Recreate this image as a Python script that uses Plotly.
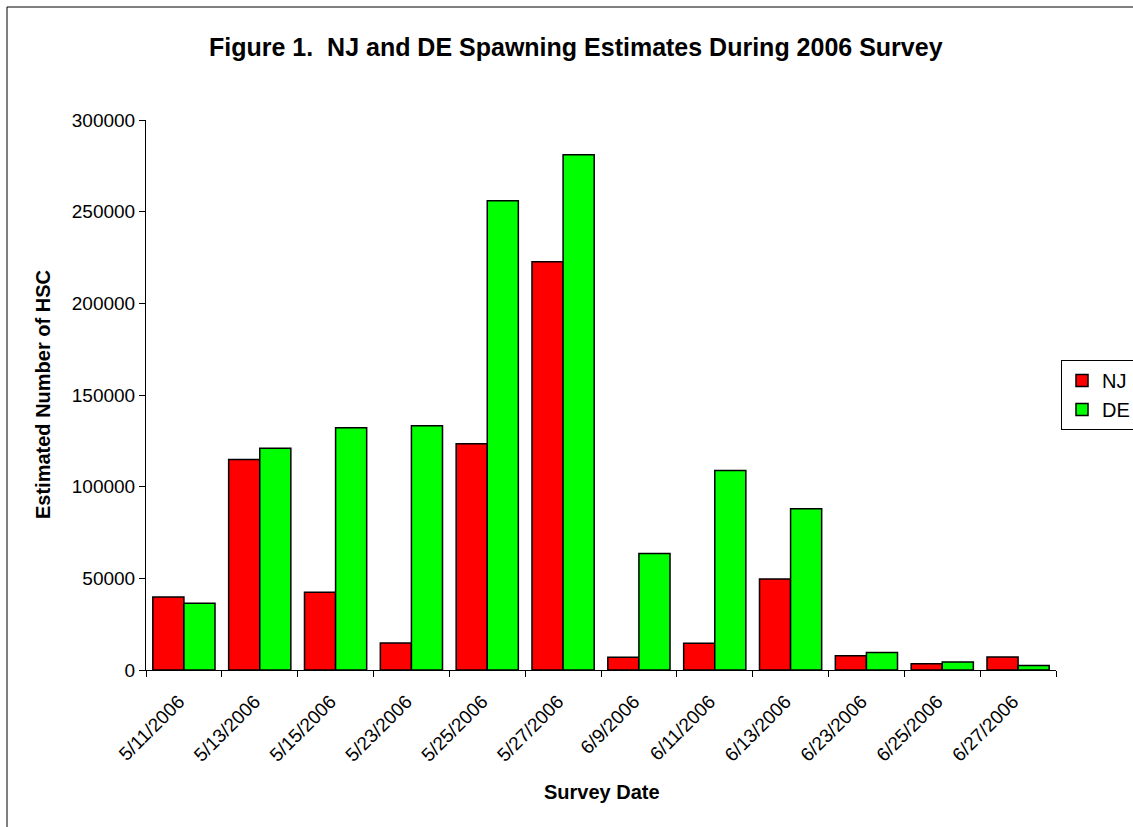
import plotly.graph_objects as go

dates = ["5/11/2006", "5/13/2006", "5/15/2006", "5/23/2006", "5/25/2006", "5/27/2006",
         "6/9/2006", "6/11/2006", "6/13/2006", "6/23/2006", "6/25/2006", "6/27/2006"]
nj = [39800, 114800, 42400, 14700, 123400, 222700, 6900, 14600, 49600, 7800, 3400, 7100]
de = [36400, 120900, 132200, 133200, 255900, 281000, 63500, 108800, 88000, 9600, 4400, 2500]
yticks = [0, 50000, 100000, 150000, 200000, 250000, 300000]

FONT = "Arial, Liberation Sans, sans-serif"

fig = go.Figure()
fig.add_trace(go.Bar(name="NJ", x=dates, y=nj,
                     marker=dict(color="#FF0000", line=dict(color="black", width=1.5))))
fig.add_trace(go.Bar(name="DE", x=dates, y=de,
                     marker=dict(color="#00FF00", line=dict(color="black", width=1.5))))

L, R, T, B = 146, 1056, 120, 670
W, H = 1133, 827
pw, ph = R - L, B - T

def px(x):
    return (x - L) / pw

def py(y):
    return (B - y) / ph

fig.update_layout(
    width=W, height=H,
    margin=dict(l=L, r=W - R, t=T, b=H - B, pad=0, autoexpand=False),
    paper_bgcolor="white", plot_bgcolor="white",
    barmode="group", bargap=0.18, bargroupgap=0,
    font=dict(family=FONT, color="black", size=19),
    showlegend=True,
    legend=dict(xref="container", yref="container",
                x=1061 / W, y=1 - 360 / H, xanchor="left", yanchor="top",
                bordercolor="black", borderwidth=1, bgcolor="white",
                font=dict(size=20, family=FONT), itemwidth=30, tracegroupgap=0),
    xaxis=dict(type="category", showline=True, linecolor="black", linewidth=1,
               ticks="outside", ticklen=6, tickcolor="black", tickson="boundaries",
               tickangle=-45, tickfont=dict(size=19, family=FONT), showgrid=False,
               ticklabelstandoff=12, ticklabelshift=-5, automargin=False),
    yaxis=dict(range=[0, 300000], tickvals=yticks,
               ticktext=[str(v) for v in yticks],
               showline=True, linecolor="black", linewidth=1, ticks="outside", ticklen=6,
               tickcolor="black", showgrid=False, zeroline=False, automargin=False,
               tickfont=dict(size=19, family=FONT)),
    shapes=[dict(type="rect", xref="paper", yref="paper",
                 x0=px(7), y0=py(900), x1=px(1200), y1=py(7),
                 line=dict(color="black", width=1), fillcolor="rgba(0,0,0,0)", layer="below")],
    annotations=[
        dict(text="<b>Figure 1.  NJ and DE Spawning Estimates During 2006 Survey</b>",
             x=px(576), y=py(47), xref="paper", yref="paper", showarrow=False,
             xanchor="center", yanchor="middle", font=dict(size=25, family=FONT)),
        dict(text="<b>Estimated Number of HSC</b>", x=px(43), y=py(395), xref="paper", yref="paper",
             showarrow=False, textangle=-90, xanchor="center", yanchor="middle",
             font=dict(size=20, family=FONT)),
        dict(text="<b>Survey Date</b>", x=px(602), y=py(792), xref="paper", yref="paper",
             showarrow=False, xanchor="center", yanchor="middle", font=dict(size=20, family=FONT)),
    ],
)

fig.write_html("out.html")
